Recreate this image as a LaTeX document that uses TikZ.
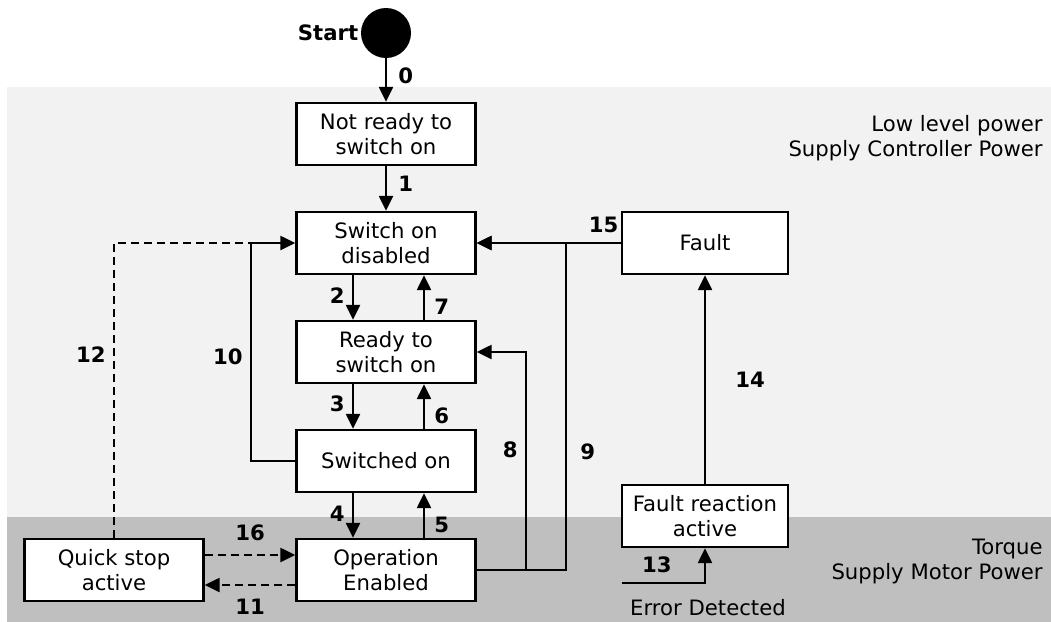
\documentclass[tikz,border=0pt]{standalone}
\usepackage{fontspec}
\setmainfont{DejaVu Sans}
\usetikzlibrary{arrows.meta}
\definecolor{lowpow}{HTML}{F2F2F2}
\definecolor{torquepow}{HTML}{BFBFBF}
\tikzset{
    state/.style={draw,line width=1.2pt,fill=white,minimum width=89.5pt,minimum height=31pt,align=center,inner sep=0pt},
    tr/.style={line width=1.2pt,-{Triangle[length=7.5pt,width=7pt]}},
    dtr/.style={tr,dash pattern=on 4pt off 2.5pt},
    num/.style={font=\bfseries}
}
\begin{document}
\begin{tikzpicture}[x=0.5pt,y=-0.5pt]
                \fontsize{10.6}{12.5}\selectfont
                \useasboundingbox (0,0) rectangle (1051,622);
                %% power areas
                \fill[lowpow] (7,87) rectangle (1051,517);
                \fill[torquepow] (7,517) rectangle (1051,622);
                \node[anchor=east,align=right,inner sep=0pt] (lowlbl) at (1043,138) {Low level power\\Supply Controller Power};
                \node[anchor=east,align=right,inner sep=0pt] (torquelbl) at (1043,561) {Torque\\Supply Motor Power};
                %% states
                \node[circle,fill=black,minimum size=25pt,inner sep=0pt] (start) at (386,33) {};
                \node[anchor=east,num,inner sep=1pt] (startlbl) at (start.west) {Start};
                \node[state] (notready) at (386,134) {Not ready to\\switch on};
                \node[state] (sod) at (386,243) {Switch on\\disabled};
                \node[state] (rts) at (386,352) {Ready to\\switch on};
                \node[state] (swon) at (386,461) {Switched on};
                \node[state] (oe) at (386,570) {Operation\\Enabled};
                \node[state] (qs) at (114,570) {Quick stop\\active};
                \node[state,minimum width=83pt] (fault) at (705,243) {Fault};
                \node[state,minimum width=83pt] (fra) at (705,516) {Fault reaction\\active};
                %% junctions
                \coordinate (j10) at (251,243);
                \coordinate (j8) at (526,352);
                \coordinate (j9) at (566,243);
                \coordinate (err) at (622,583);
                %% transitions
                \draw[tr] (start) -- (notready) node[num,pos=0.4,right=2pt] {0};
                \draw[tr] (notready) -- (sod) node[num,pos=0.4,right=2pt] {1};
                \foreach \a/\b/\dn/\up in {sod/rts/2/7,rts/swon/3/6,swon/oe/4/5} {
                    \draw[tr] ([xshift=-16.5pt]\a.south) -- ([xshift=-16.5pt]\b.north) node[num,pos=0.45,left] {\dn};
                    \draw[tr] ([xshift=19pt]\b.north) -- ([xshift=19pt]\a.south) node[num,pos=0.3,right=1pt] {\up};
                }
                \draw[tr] (swon.west) -| (j10) node[num,pos=0.74,left=0pt] {10} -- (sod.west);
                \draw[dtr,-] (qs.north) |- (j10) node[num,pos=0.31,left=0pt] {12};
                \draw[dtr] ([yshift=7.5pt]qs.east) -- ([yshift=7.5pt]oe.west) node[num,midway,above=3pt] {16};
                \draw[dtr] ([yshift=-7.5pt]oe.west) -- ([yshift=-7.5pt]qs.east) node[num,midway,below=3pt] {11};
                \draw[tr] (oe.east) -| (j8) node[num,pos=0.775,left=0pt] {8} -- (rts.east);
                \draw[tr] (oe.east) -| (j9) node[num,pos=0.68,right=3pt] {9} -- (sod.east);
                \draw[tr] (fault.west) -- (sod.east) node[num,pos=0.12,above=1pt] {15};
                \draw[tr] (fra.north) -- (fault.south) node[num,midway,right=11pt] {14};
                \draw[tr] (err) -| (fra.south) node[num,pos=0.21,above=1pt] {13};
                \node[anchor=north] (errlbl) at (708,592) {Error Detected};
\end{tikzpicture}
\end{document}
